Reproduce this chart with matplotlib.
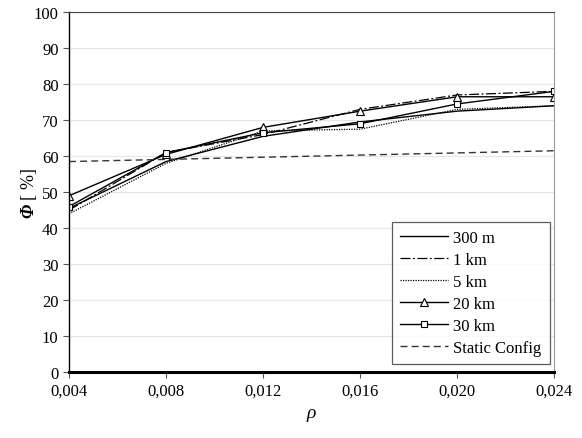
import matplotlib
matplotlib.use("Agg")
import matplotlib.pyplot as plt
import numpy as np

plt.rcParams['font.family'] = ['Liberation Serif', 'DejaVu Serif']
plt.rcParams['mathtext.fontset'] = 'custom'
plt.rcParams['mathtext.it'] = 'Liberation Serif:italic'
plt.rcParams['mathtext.bf'] = 'Liberation Serif:bold:italic'

rho = [0.004, 0.008, 0.012, 0.016, 0.020, 0.024]
phi_300m = [45.5, 58.5, 65.5, 69.5, 72.5, 74.0]
phi_1km = [45.0, 61.0, 66.0, 73.0, 77.0, 78.0]
phi_5km = [44.0, 58.0, 67.0, 67.5, 73.0, 74.0]
phi_20km = [49.0, 60.5, 68.0, 72.5, 76.5, 76.5]
phi_30km = [46.0, 61.0, 66.5, 69.0, 74.5, 78.0]
static_rho = [0.004, 0.024]
phi_static = [58.5, 61.5]

fig = plt.figure(figsize=(5.82, 4.39), dpi=100)
ax = fig.add_axes([0.1186, 0.150, 0.8334, 0.820])

ax.plot(rho, phi_300m, color='black', linestyle='-', linewidth=1.0, label='300 m')
ax.plot(rho, phi_1km, color='black', linestyle=(0, (8, 2, 1.5, 2)), linewidth=0.9, label='1 km')
ax.plot(rho, phi_5km, color='black', linestyle=(0, (1, 1)), linewidth=0.9, label='5 km')
ax.plot(rho, phi_20km, color='black', linestyle='-', linewidth=1.0, marker='^',
        markersize=6, markerfacecolor='white', markeredgecolor='black', markeredgewidth=0.8,
        label='20 km')
ax.plot(rho, phi_30km, color='black', linestyle='-', linewidth=1.0, marker='s',
        markersize=5, markerfacecolor='white', markeredgecolor='black', markeredgewidth=0.8,
        label='30 km')
ax.plot(static_rho, phi_static, color='#333333', linestyle=(0, (5, 3)), linewidth=1.0,
        label='Static Config')

ax.set_xlim(0.004, 0.024)
ax.set_ylim(0, 100)
ax.set_xticks([0.004, 0.008, 0.012, 0.016, 0.020, 0.024])
ax.set_xticklabels(['0,004', '0,008', '0,012', '0,016', '0,020', '0,024'])
ax.set_yticks(np.arange(0, 101, 10))
ax.tick_params(axis='both', labelsize=12, direction='out', length=4, width=0.8, color='#555555')

ax.yaxis.grid(True, color='#e6e6e6', linewidth=0.8)
ax.set_axisbelow(True)

ax.spines['bottom'].set_linewidth(2.2)
ax.spines['bottom'].set_color('black')
ax.spines['left'].set_linewidth(1.0)
ax.spines['left'].set_color('black')
ax.spines['top'].set_color('#444444')
ax.spines['top'].set_linewidth(0.8)
ax.spines['right'].set_color('#999999')
ax.spines['right'].set_linewidth(0.8)

ax.set_xlabel(r'$\mathit{\rho}$', fontsize=14)
ax.xaxis.set_label_coords(0.5, -0.095)
ax.set_ylabel(r'$\mathbf{\Phi}$ [ %]', fontsize=13)
ax.yaxis.set_label_coords(-0.062, 0.5)

leg = ax.legend(loc='lower right', bbox_to_anchor=(0.9915, 0.022), fontsize=12,
                frameon=True, fancybox=False, handlelength=2.9, handletextpad=0.3,
                labelspacing=0.36, borderpad=0.5, borderaxespad=0.0)
leg.get_frame().set_edgecolor('#333333')
leg.get_frame().set_linewidth(0.9)

plt.savefig('out.png', dpi=100)
plt.close()
